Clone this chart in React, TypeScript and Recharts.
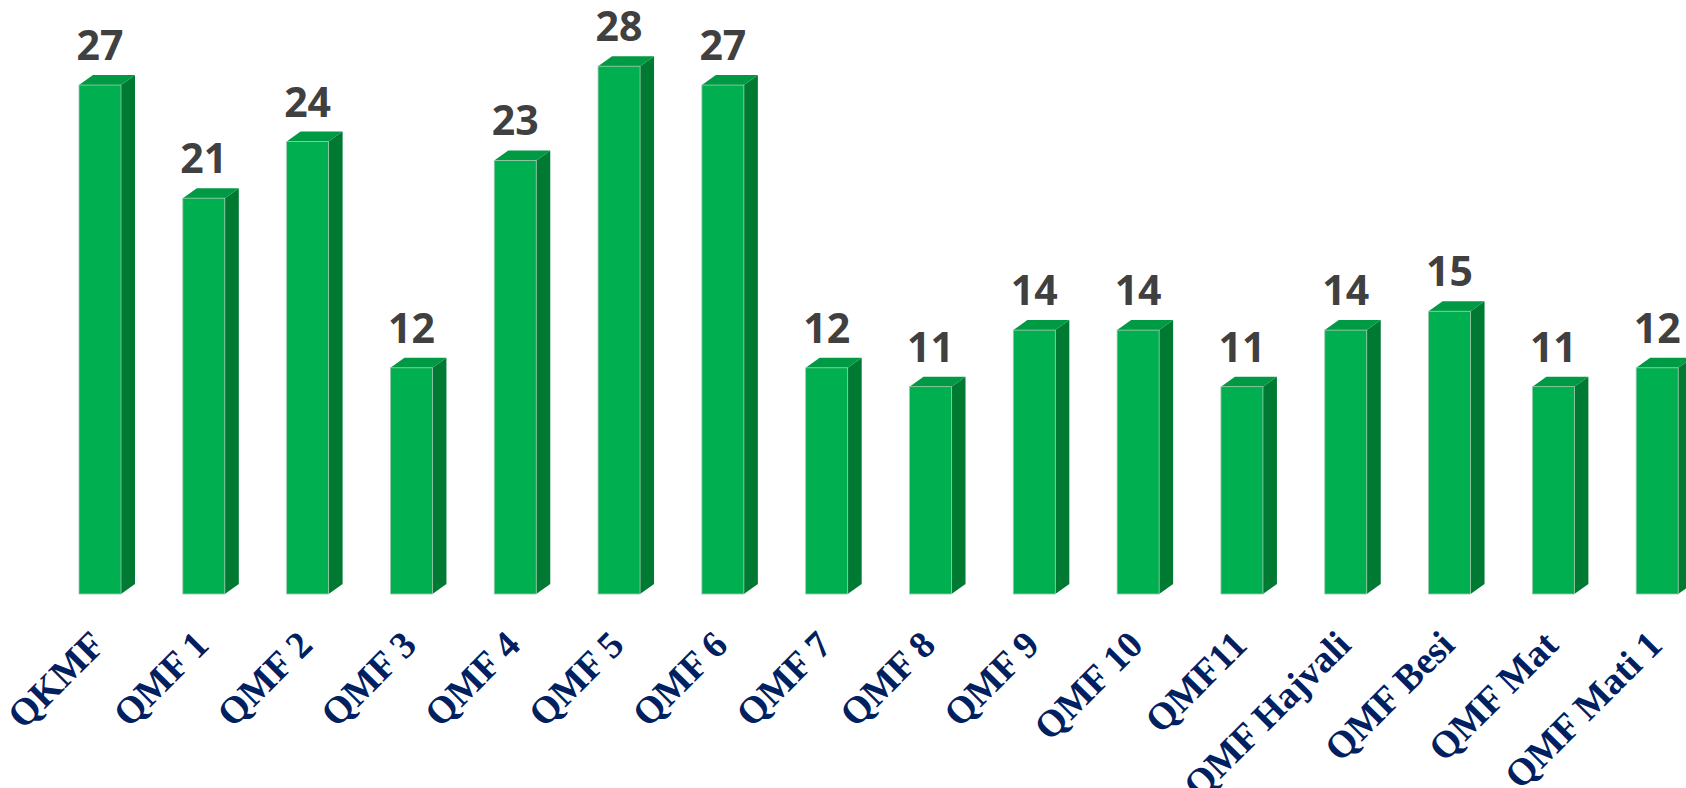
import React from 'react';
import { BarChart, Bar, XAxis, YAxis, LabelList } from 'recharts';

const categories = [
  'QKMF', 'QMF 1', 'QMF 2', 'QMF 3', 'QMF 4', 'QMF 5', 'QMF 6', 'QMF 7',
  'QMF 8', 'QMF 9', 'QMF 10', 'QMF11', 'QMF Hajvali', 'QMF Besi', 'QMF Mat', 'QMF Mati 1',
];
const values = [27, 21, 24, 12, 23, 28, 27, 12, 11, 14, 14, 11, 14, 15, 11, 12];

const data = categories.map((name, i) => ({ name, value: values[i] }));

const DEPTH = 14;
const RISE = 10;

const Bar3D = (props: any) => {
  const { x, y, width, height } = props;
  if (height == null || width == null) return null;
  const w = width - DEPTH;
  const cap = `${x},${y} ${x + DEPTH},${y - RISE} ${x + w + DEPTH},${y - RISE} ${x + w},${y}`;
  const side = `${x + w},${y} ${x + w + DEPTH},${y - RISE} ${x + w + DEPTH},${y + height - RISE} ${x + w},${y + height}`;
  return (
    <g>
      <polygon points={side} fill="#007A33" />
      <polygon points={cap} fill="#009A44" />
      <rect x={x} y={y} width={w} height={height} fill="#00B050" stroke="#9BC9A9" strokeWidth={0.8} />
    </g>
  );
};

const ValueLabel = (props: any) => {
  const { x, y, width, value } = props;
  const w = width - DEPTH;
  return (
    <text
      x={x + w / 2}
      y={y - 25}
      textAnchor="middle"
      fontFamily="'Open Sans', sans-serif"
      fontWeight={700}
      fontSize={41}
      fill="#404040"
    >
      {value}
    </text>
  );
};

const Tick = (props: any) => {
  const { x, y, payload } = props;
  const ty = y + 53;
  return (
    <text
      x={x}
      y={ty}
      transform={`rotate(-45, ${x}, ${ty})`}
      textAnchor="end"
      fontFamily="'Liberation Serif', 'Times New Roman', serif"
      fontWeight={700}
      fontSize={38}
      fill="#002060"
    >
      {payload.value}
    </text>
  );
};

export default function App() {
  return (
    <div style={{ position: 'absolute', left: 0, top: 0, width: 1686, height: 788, overflow: 'hidden', background: '#fff' }}>
      <BarChart
        width={1730}
        height={788}
        data={data}
        margin={{ top: 28.5, right: 14, left: 55, bottom: 0 }}
        barCategoryGap={0}
      >
        <XAxis
          dataKey="name"
          height={194}
          axisLine={false}
          tickLine={false}
          tickSize={0}
          tickMargin={0}
          interval={0}
          tick={<Tick />}
        />
        <YAxis hide domain={[0, 30]} />
        <Bar dataKey="value" barSize={56} shape={<Bar3D />} isAnimationActive={false}>
          <LabelList dataKey="value" content={<ValueLabel />} />
        </Bar>
      </BarChart>
    </div>
  );
}
